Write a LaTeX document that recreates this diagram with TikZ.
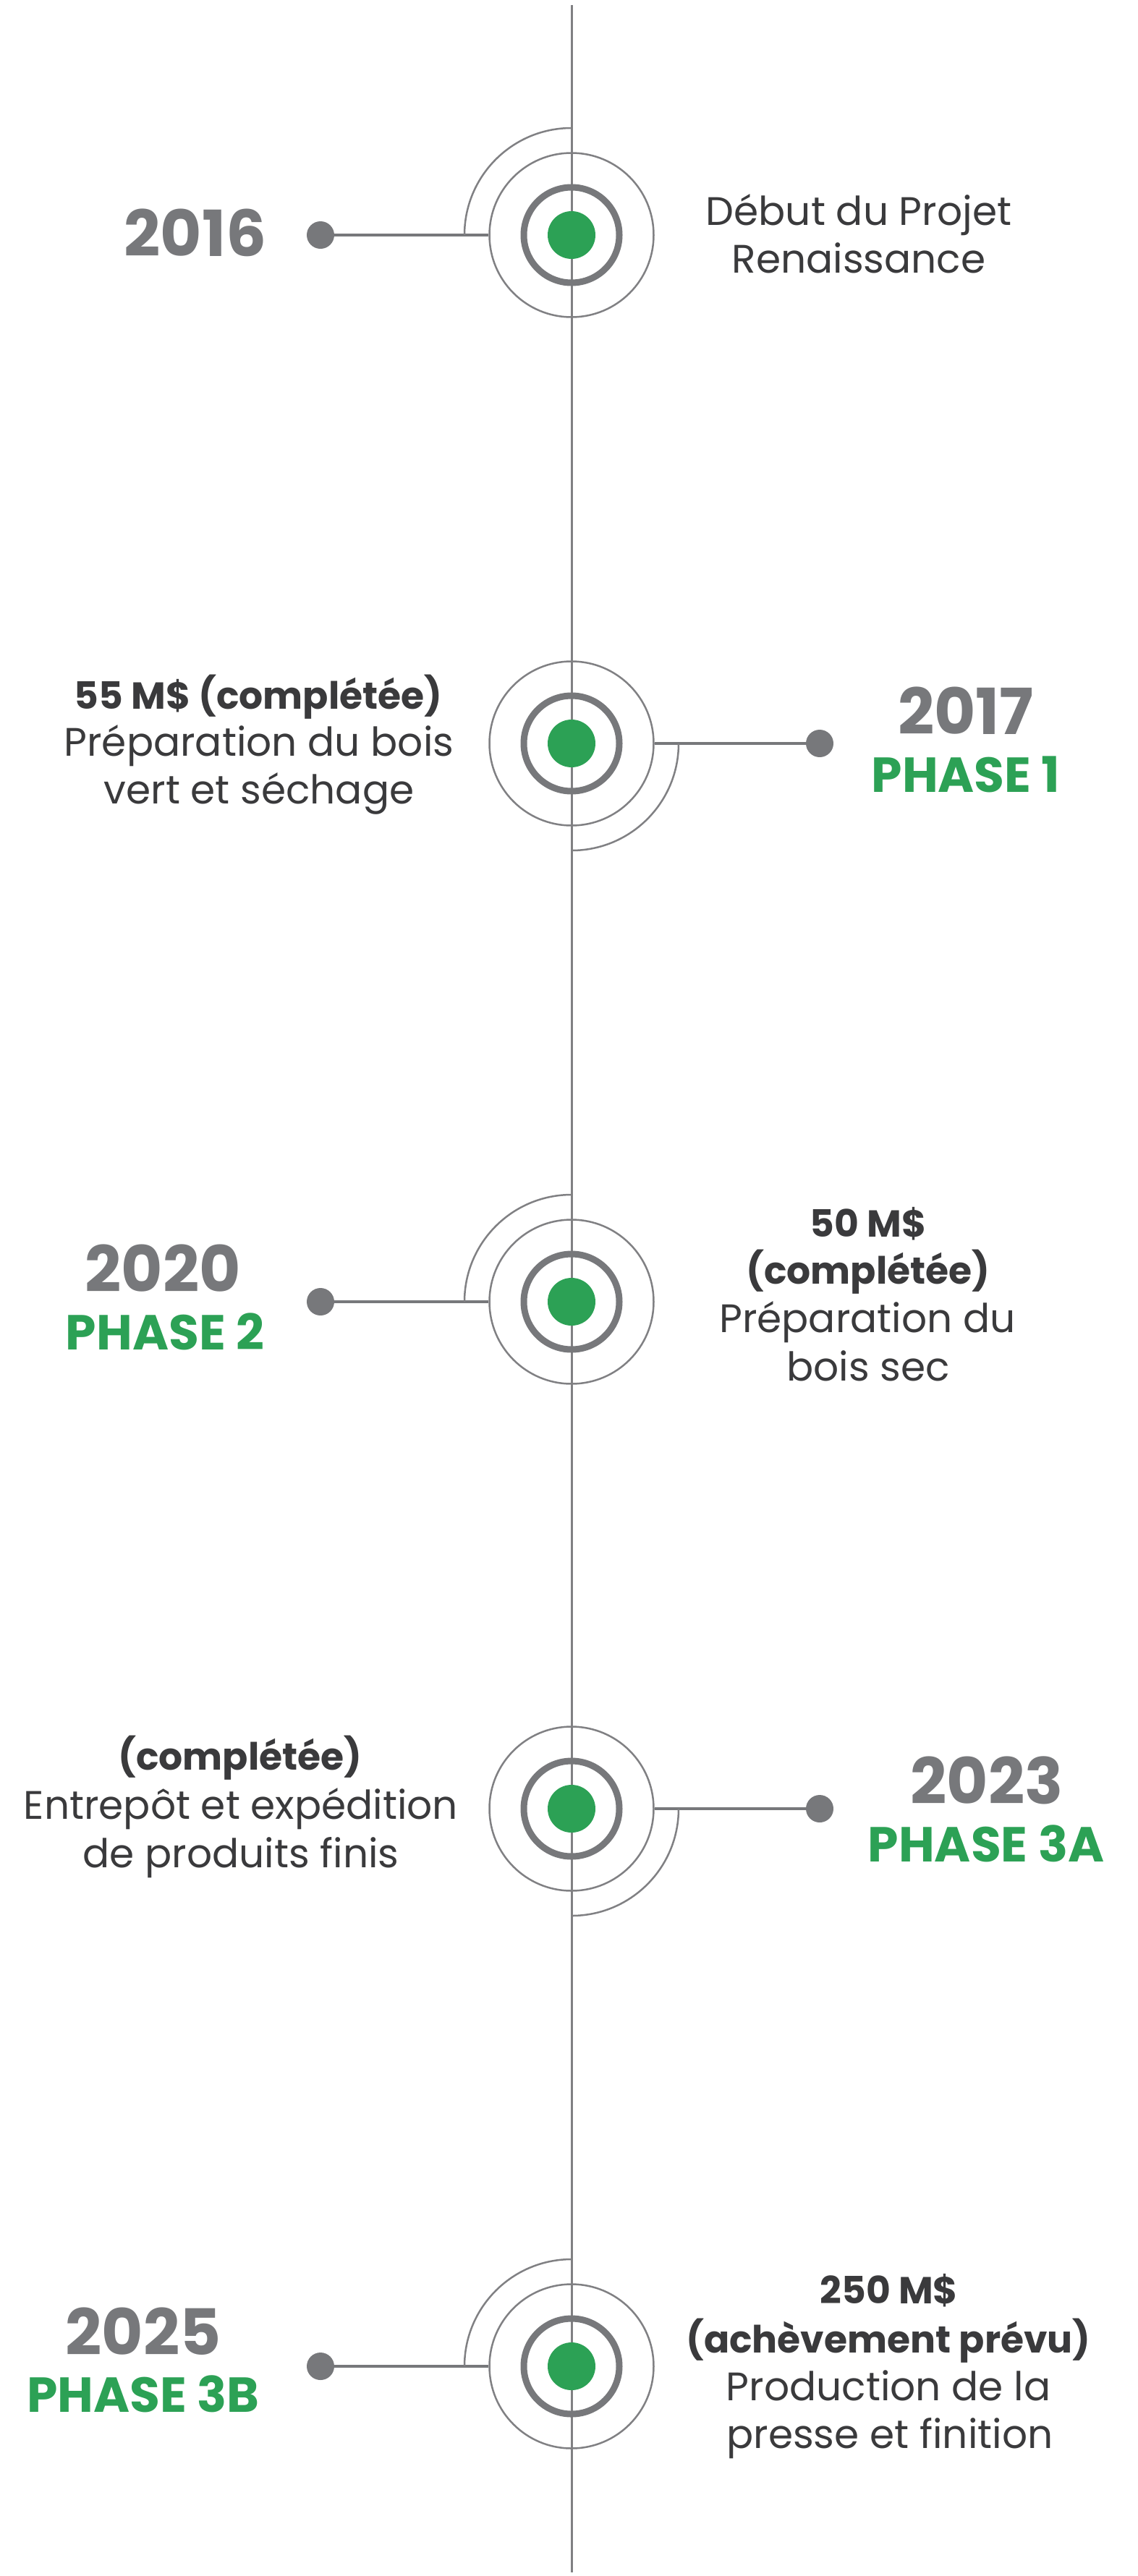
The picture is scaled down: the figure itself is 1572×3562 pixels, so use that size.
\documentclass[tikz,border=0pt]{standalone}
\usepackage{fontspec}
\setmainfont{Poppins}
\definecolor{ringgray}{HTML}{77787B}
\definecolor{linegray}{HTML}{808083}
\definecolor{phasegreen}{HTML}{2CA155}
\definecolor{textdark}{HTML}{3A3A3C}
\tikzset{
  outerring/.style={circle, draw=linegray, line width=2.5pt, minimum size=227pt, inner sep=0pt},
  innerring/.style={circle, draw=ringgray, line width=9pt, minimum size=132pt, inner sep=0pt},
  greendot/.style={circle, fill=phasegreen, minimum size=66pt, inner sep=0pt},
  enddot/.style={circle, fill=ringgray, minimum size=38pt, inner sep=0pt},
  connector/.style={draw=ringgray, line width=3.5pt},
  quarter/.style={draw=linegray, line width=2.5pt},
  spine/.style={draw=linegray, line width=3pt},
  yeartext/.style={anchor=base, inner sep=0pt, text=ringgray, font=\fontsize{88}{100}\selectfont\bfseries},
  phasetext/.style={anchor=base, inner sep=0pt, text=phasegreen, font=\fontsize{68}{80}\selectfont\bfseries},
  desctext/.style={anchor=base, inner sep=0pt, text=textdark, font=\fontsize{55}{66}\selectfont},
  descbold/.style={anchor=base, inner sep=0pt, text=textdark, font=\fontsize{52}{62}\selectfont\bfseries},
}
\begin{document}
\begin{tikzpicture}[x=1pt, y=-1pt]
\useasboundingbox (0,0) rectangle (1572,3562);
% spine
\coordinate (top) at (790,7);
\coordinate (bottom) at (790,3557);
\draw[spine] (top) -- (bottom);

% ---------- Milestone 1 ----------
\node[outerring] (o1) at (790,325) {};
\node[innerring] (i1) at (790,325) {};
\node[greendot] (g1) at (790,325) {};
\node[enddot] (d1) at (443,325) {};
\draw[connector] (d1.center) -- (o1.west);
\draw[quarter] (o1.center) ++(0pt,148pt) arc[start angle=90, end angle=180, radius=148pt];
\node[yeartext] (y1) at (270,354) {2016};
\node[desctext] (t1a) at (1187,311) {Début du Projet};
\node[desctext] (t1b) at (1187,377) {Renaissance};

% ---------- Milestone 2 ----------
\node[outerring] (o2) at (790,1028) {};
\node[innerring] (i2) at (790,1028) {};
\node[greendot] (g2) at (790,1028) {};
\node[enddot] (d2) at (1133,1028) {};
\draw[connector] (o2.east) -- (d2.center);
\draw[quarter] (o2.center) ++(148pt,0pt) arc[start angle=0, end angle=-90, radius=148pt];
\node[yeartext] (y2) at (1335,1015) {2017};
\node[phasetext] (p2) at (1335,1095) {PHASE 1};
\node[descbold] (t2a) at (357,980) {55 M\$ (complétée)};
\node[desctext] (t2b) at (358,1045) {Préparation du bois};
\node[desctext] (t2c) at (358,1111) {vert et séchage};

% ---------- Milestone 3 ----------
\node[outerring] (o3) at (790,1800) {};
\node[innerring] (i3) at (790,1800) {};
\node[greendot] (g3) at (790,1800) {};
\node[enddot] (d3) at (443,1800) {};
\draw[connector] (d3.center) -- (o3.west);
\draw[quarter] (o3.center) ++(0pt,148pt) arc[start angle=90, end angle=180, radius=148pt];
\node[yeartext] (y3) at (225,1786) {2020};
\node[phasetext] (p3) at (228,1866) {PHASE 2};
\node[descbold] (t3a) at (1200,1710) {50 M\$};
\node[descbold] (t3b) at (1200,1775) {(complétée)};
\node[desctext] (t3c) at (1199,1842) {Préparation du};
\node[desctext] (t3d) at (1200,1909) {bois sec};

% ---------- Milestone 4 ----------
\node[outerring] (o4) at (790,2501) {};
\node[innerring] (i4) at (790,2501) {};
\node[greendot] (g4) at (790,2501) {};
\node[enddot] (d4) at (1133,2501) {};
\draw[connector] (o4.east) -- (d4.center);
\draw[quarter] (o4.center) ++(148pt,0pt) arc[start angle=0, end angle=-90, radius=148pt];
\node[yeartext] (y4) at (1364,2494) {2023};
\node[phasetext] (p4) at (1363,2574) {PHASE 3A};
\node[descbold] (t4a) at (332,2447) {(complétée)};
\node[desctext] (t4b) at (333,2515) {Entrepôt et expédition};
\node[desctext] (t4c) at (333,2582) {de produits finis};

% ---------- Milestone 5 ----------
\node[outerring] (o5) at (790,3272) {};
\node[innerring] (i5) at (790,3272) {};
\node[greendot] (g5) at (790,3272) {};
\node[enddot] (d5) at (443,3272) {};
\draw[connector] (d5.center) -- (o5.west);
\draw[quarter] (o5.center) ++(0pt,148pt) arc[start angle=90, end angle=180, radius=148pt];
\node[yeartext] (y5) at (198,3256) {2025};
\node[phasetext] (p5) at (198,3335) {PHASE 3B};
\node[descbold] (t5a) at (1229,3185) {250 M\$};
\node[descbold] (t5b) at (1228,3253) {(achèvement prévu)};
\node[desctext] (t5c) at (1228,3319) {Production de la};
\node[desctext] (t5d) at (1230,3385) {presse et finition};
\end{tikzpicture}
\end{document}
